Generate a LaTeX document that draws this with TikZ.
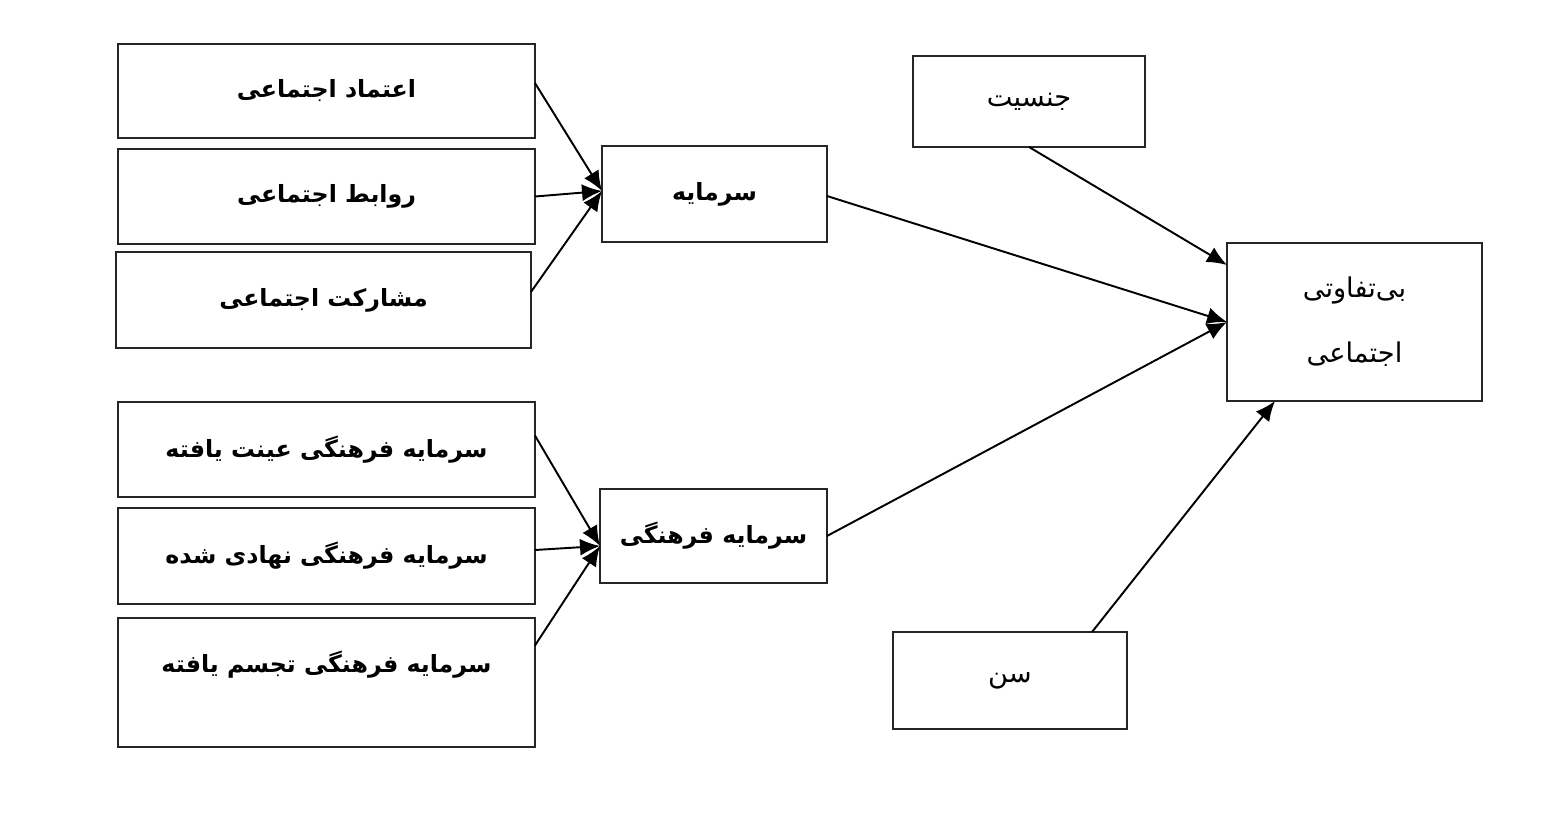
\documentclass[tikz,border=0pt]{standalone}
\usepackage{fontspec}
\usetikzlibrary{calc,positioning,arrows.meta}
\newfontfamily\arabicfont[Script=Arabic]{DejaVu Sans}
\TeXXeTstate=1
\newcommand{\fatext}[1]{{\arabicfont\beginR #1\endR}}

\tikzset{
  box/.style={draw=black!85, line width=1.1pt, inner sep=0pt, outer sep=0pt,
    font=\bfseries\fontsize{13.5}{16}\selectfont},
  plainbox/.style={box, font=\fontsize{15.5}{18}\selectfont},
  link/.style={line width=1.1pt, -{Latex[length=4mm,width=3.4mm]}}
}

\begin{document}
\begin{tikzpicture}[x=0.02cm,y=-0.02cm]
  \useasboundingbox (0,0) rectangle (1556,818);
  % social capital side
  \node[box, minimum width=8.34cm, minimum height=1.88cm] (etemad) at (326.5,91) {\fatext{اعتماد اجتماعی}};
  \node[box, minimum width=8.34cm, minimum height=1.9cm] (ravabet) at (326.5,196.5) {\fatext{روابط اجتماعی}};
  \node[box, minimum width=8.3cm, minimum height=1.92cm] (mosharekat) at (323.5,300) {\fatext{مشارکت اجتماعی}};
  \node[box, minimum width=4.5cm, minimum height=1.92cm] (sarmaye) at (714.5,194) {\fatext{سرمایه}};
  % cultural capital side
  \node[box, minimum width=8.34cm, minimum height=1.9cm] (eyniyat) at (326.5,449.5) {\fatext{سرمایه فرهنگی عینت یافته}};
  \node[box, minimum width=8.34cm, minimum height=1.92cm] (nahadi) at (326.5,556) {\fatext{سرمایه فرهنگی نهادی شده}};
  \node[box, minimum width=8.34cm, minimum height=2.58cm] (tajassom) at (326.5,682.5) {};
  \node[font=\bfseries\fontsize{13.5}{16}\selectfont] (tajassomtext) at (326.5,665) {\fatext{سرمایه فرهنگی تجسم یافته}};
  \node[box, minimum width=4.54cm, minimum height=1.88cm] (farhangi) at (713.5,536) {\fatext{سرمایه فرهنگی}};
  % outcome and controls
  \node[plainbox, minimum width=4.64cm, minimum height=1.82cm] (jensiyat) at (1029,101.5) {\fatext{جنسیت}};
  \node[plainbox, minimum width=5.1cm, minimum height=3.16cm, align=center,
    font=\fontsize{15.5}{37}\selectfont] (bitafavoti) at (1354.5,322) {\fatext{بی‌تفاوتی}\\\fatext{اجتماعی}};
  \node[plainbox, minimum width=4.68cm, minimum height=1.94cm] (sen) at (1010,680.5) {\fatext{سن}};

  \coordinate (sin) at ($(sarmaye.west)+(0,-3)$);
  \coordinate (cin) at ($(farhangi.west)+(0,10)$);

  \draw[link] ($(etemad.east)+(0,-8)$) -- (sin);
  \draw[link] (ravabet.east) -- (sin);
  \draw[link] ($(mosharekat.east)+(0,-8)$) -- (sin);
  \draw[link] ($(eyniyat.east)+(0,-14)$) -- (cin);
  \draw[link] ($(nahadi.east)+(0,-6)$) -- (cin);
  \draw[link] ($(tajassom.east)+(0,-37)$) -- (cin);

  \draw[link] ($(sarmaye.east)+(0,2)$) -- (bitafavoti.west);
  \draw[link] (farhangi.east) -- (bitafavoti.west);
  \draw[link] (jensiyat.south) -- ($(bitafavoti.north west)+(0,22)$);
  \draw[link] ($(sen.north)+(82,0)$) -- ($(bitafavoti.south west)+(48,0)$);
\end{tikzpicture}
\end{document}
